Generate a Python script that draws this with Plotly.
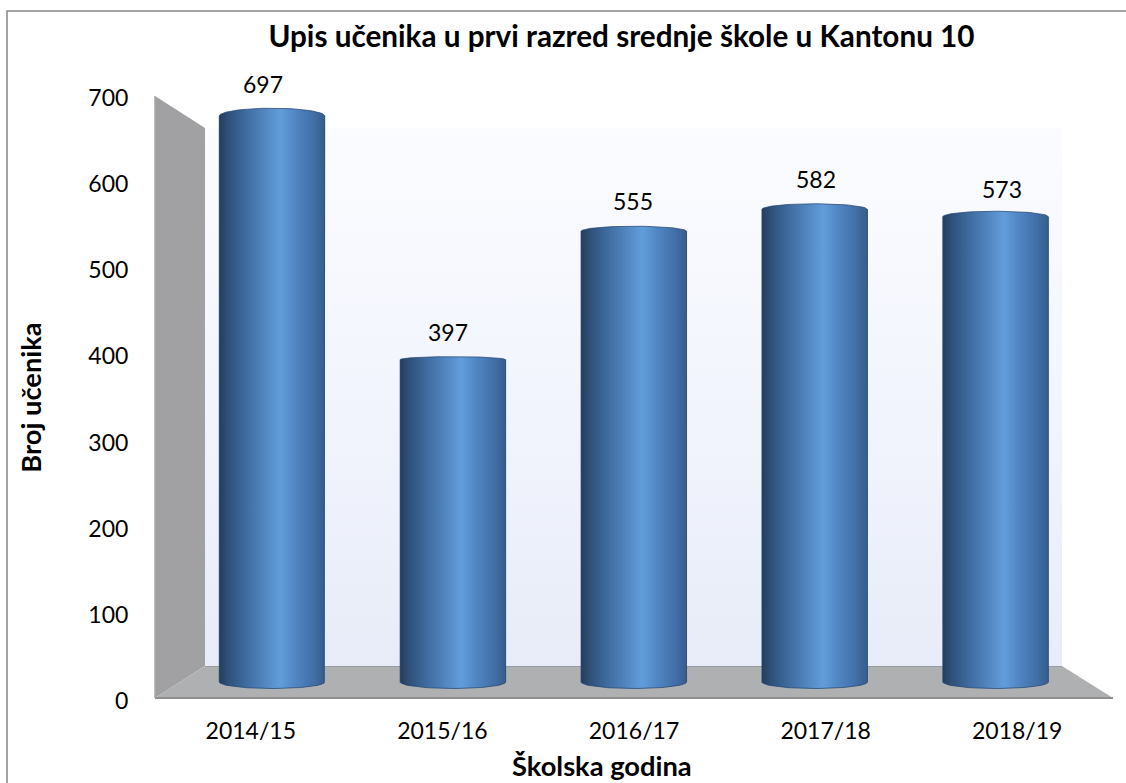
import math
import plotly.graph_objects as go

# ---- data ----
school_years = ["2014/15", "2015/16", "2016/17", "2017/18", "2018/19"]
students = [697, 397, 555, 582, 573]
y_ticks = [0, 100, 200, 300, 400, 500, 600, 700]
chart_title = "Upis učenika u prvi razred srednje škole u Kantonu 10"
x_title = "Školska godina"
y_title = "Broj učenika"

# ---- layout constants (pixels) ----
W, H = 1126, 783
FONT = "Lato, Carlito, Calibri, sans-serif"
L, R, T, B = 155, 1113, 96, 698          # front plane of the 3D box
PT, PB = 90, 705                         # plot area top / bottom
Y_TOP, Y_ZERO = 98, 701                  # pixel of axis values 700 and 0
BACK_L, BACK_R, BACK_T, BACK_B = 205, 1062, 128, 666
BAR_C0, BAR_STEP, BAR_W = 272.0, 180.9, 105.5
BAR_Y0, BAR_SCALE = 682.0, 0.812          # projected value plane of the columns
label_dx = [-9, -5, -1, 1, 6]
label_dy = [32, 28, 30, 30, 28]

Y_SCALE = (Y_ZERO - Y_TOP) / 700


def px(x):   # pixel -> paper (plot area) fraction
    return (x - L) / (R - L)


def py(y):
    return (PB - y) / (PB - PT)


def ax_x(p):   # pixel -> front axis x
    return -0.5 + (p - L) / (R - L) * 5


def ax_y(p):   # pixel -> front axis y
    return (Y_ZERO - p) / Y_SCALE


fig = go.Figure()

# Back wall with its soft gradient
fig.add_trace(go.Scatter(
    x=[ax_x(v) for v in (BACK_L, BACK_R, BACK_R, BACK_L, BACK_L)],
    y=[ax_y(v) for v in (BACK_B, BACK_B, BACK_T, BACK_T, BACK_B)],
    mode="lines", line=dict(width=0), fill="toself",
    fillgradient=dict(type="vertical", colorscale=[[0, "#e8ecf8"], [0.5, "#f2f5fd"], [1, "#fbfcff"]]),
    hoverinfo="skip", showlegend=False, xaxis="x", yaxis="y",
))

# Columns: flat bars, then a shaded cylinder on the same axes
half = BAR_W / BAR_STEP / 2
fig.add_trace(go.Bar(
    x=list(range(len(students))), y=students, width=2 * half,
    marker=dict(color="#3f6fa8", line=dict(width=0)),
    hoverinfo="skip", showlegend=False, xaxis="x2", yaxis="y2",
))
cyl_scale = [[0, "#243d5c"], [0.08, "#2e4f78"], [0.25, "#3f6b9f"], [0.58, "#629ddb"],
             [0.72, "#5186c4"], [0.9, "#406ea6"], [1, "#375c8a"]]
for i, v in enumerate(students):
    dome = max(0.019 * (v - 285), 3) / BAR_SCALE
    dip = 6.5 / BAR_SCALE
    n = 40
    xs, ys = [], []
    for k in range(n + 1):
        t = math.pi * (1 - k / n)
        xs.append(i + half * math.cos(t))
        ys.append(v + dome * math.sin(t))
    for k in range(n + 1):
        t = math.pi * k / n
        xs.append(i + half * math.cos(t))
        ys.append(-dip * math.sin(t))
    xs.append(xs[0])
    ys.append(ys[0])
    fig.add_trace(go.Scatter(
        x=xs, y=ys, mode="lines", line=dict(width=1, color="rgba(38,72,115,0.75)"),
        fill="toself", fillgradient=dict(type="horizontal", colorscale=cyl_scale),
        hoverinfo="skip", showlegend=False, xaxis="x2", yaxis="y2",
    ))

# Value labels above the columns
annotations = [
    dict(x=i, y=v, xref="x2", yref="y2", text=str(v), showarrow=False,
         xshift=label_dx[i], yshift=label_dy[i], yanchor="middle",
         font=dict(family=FONT, size=23, color="#000000"))
    for i, v in enumerate(students)
]
annotations.append(dict(
    x=px(602), y=py(765.5), xref="paper", yref="paper", text=f"<b>{x_title}</b>", showarrow=False,
    font=dict(family=FONT, size=27.3, color="#000000"), yanchor="middle",
))


def path(points):
    return "M " + " L ".join(f"{px(a):.5f},{py(b):.5f}" for a, b in points) + " Z"


shapes = [
    # chart frame
    dict(type="rect", xref="paper", yref="paper", x0=px(7), x1=px(W + 5), y0=py(H + 5), y1=py(11),
         line=dict(color="#868686", width=1.5), fillcolor="rgba(0,0,0,0)", layer="below"),
    # left wall
    dict(type="path", xref="paper", yref="paper", layer="below",
         path=path([(L, T), (BACK_L, BACK_T), (BACK_L, BACK_B), (L, B)]),
         fillcolor="#a1a1a3", line=dict(width=0)),
    # floor
    dict(type="path", xref="paper", yref="paper", layer="below",
         path=path([(L, B), (BACK_L, BACK_B), (BACK_R, BACK_B), (R, B)]),
         fillcolor="#aeb0b2", line=dict(width=0)),
    # darker edges
    dict(type="line", xref="paper", yref="paper", layer="below",
         x0=px(L), x1=px(R), y0=py(B), y1=py(B), line=dict(color="#8d8f91", width=2)),
    dict(type="line", xref="paper", yref="paper", layer="below",
         x0=px(BACK_L), x1=px(BACK_R), y0=py(BACK_B), y1=py(BACK_B), line=dict(color="#929496", width=1.5)),
    dict(type="line", xref="paper", yref="paper", layer="below",
         x0=px(L), x1=px(L), y0=py(T), y1=py(B), line=dict(color="#a9a9ab", width=1.5)),
]

fig.update_layout(
    width=W, height=H, autosize=False,
    margin=dict(l=L, r=W - R, t=PT, b=H - PB, pad=0),
    paper_bgcolor="#ffffff", plot_bgcolor="rgba(0,0,0,0)",
    showlegend=False, barmode="overlay", hovermode=False,
    font=dict(family=FONT, size=23, color="#000000"),
    title=dict(text=f"<b>{chart_title}</b>", x=621.5 / W, xanchor="center", xref="container",
               y=1 - 37 / H, yanchor="middle", yref="container",
               font=dict(family=FONT, size=29.7, color="#000000")),
    xaxis=dict(type="linear", range=[-0.5, 4.5], tickmode="array",
               tickvals=list(range(len(school_years))), ticktext=school_years,
               showgrid=False, zeroline=False, showline=False, ticks="outside", ticklen=5,
               tickcolor="rgba(0,0,0,0)", tickfont=dict(family=FONT, size=23, color="#000000")),
    yaxis=dict(range=[(Y_ZERO - PB) / Y_SCALE, (Y_ZERO - PT) / Y_SCALE], tickmode="array", tickvals=y_ticks,
               showgrid=False, zeroline=False, showline=False, ticks="outside", ticklen=21,
               tickcolor="rgba(0,0,0,0)", tickfont=dict(family=FONT, size=23, color="#000000"),
               title=dict(text=f"<b>{y_title}</b>", standoff=38,
                          font=dict(family=FONT, size=27.3, color="#000000"))),
    xaxis2=dict(type="linear", overlaying="x", anchor="y2", visible=False,
                range=[(L - BAR_C0) / BAR_STEP, (R - BAR_C0) / BAR_STEP]),
    yaxis2=dict(overlaying="y", anchor="x2", visible=False,
                range=[(BAR_Y0 - PB) / BAR_SCALE, (BAR_Y0 - PT) / BAR_SCALE]),
    annotations=annotations,
    shapes=shapes,
)

fig.write_html("out.html", config={"displayModeBar": False},
               post_script="document.body.style.margin='0';document.body.style.overflow='hidden';")
